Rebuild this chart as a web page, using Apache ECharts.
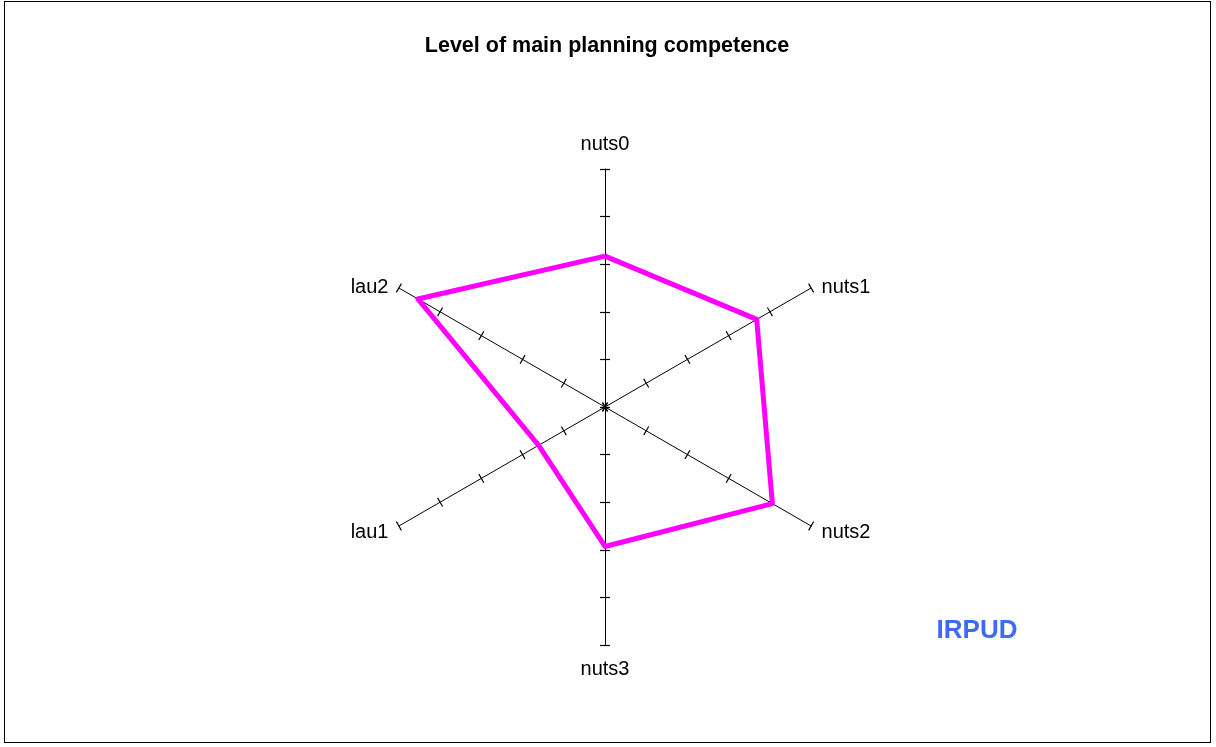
<!DOCTYPE html>
<html>
<head>
<meta charset="utf-8">
<script src="https://cdn.jsdelivr.net/npm/echarts@6/dist/echarts.min.js"></script>
<style>
html,body{margin:0;padding:0;background:#fff;}
#frame{position:absolute;left:4px;top:1px;width:1205px;height:740px;border:1px solid #000;}
#chart{position:absolute;left:0;top:0;width:1216px;height:747px;}
</style>
</head>
<body>
<div id="frame"></div>
<div id="chart"></div>
<script>
// Indicators in ECharts order (top, then counter-clockwise)
const categories = ['nuts0', 'lau2', 'lau1', 'nuts3', 'nuts2', 'nuts1'];
const values = [3.17, 4.54, 1.61, 2.93, 4.06, 3.68];
const axisMax = 5;
const splitCount = 5;
const titleText = 'Level of main planning competence';
const watermark = 'IRPUD';

const indicators = categories.map(n => ({ name: n, min: 0, max: axisMax }));
const baseRadar = {
  center: [605, 407],
  radius: 238,
  startAngle: 90,
  splitNumber: splitCount,
  shape: 'polygon',
  indicator: indicators,
  splitLine: { show: false },
  splitArea: { show: false },
  axisLabel: { show: false }
};
const nameStyleKey = { nuts0: 'top', nuts3: 'bot', nuts1: 'up', lau2: 'up', nuts2: 'low', lau1: 'low' };
const nameFont = { color: '#000', fontFamily: 'Liberation Sans, Arial', fontSize: 20 };

const chart = echarts.init(document.getElementById('chart'));
chart.setOption({
  animation: false,
  backgroundColor: 'transparent',
  title: [{
    text: titleText,
    left: 602, top: 30, textAlign: 'center',
    textStyle: { fontFamily: 'Liberation Sans, Arial', fontWeight: 'bold', fontSize: 21.5, color: '#000' }
  }, {
    text: watermark,
    left: 972, top: 613, textAlign: 'center',
    textStyle: { fontFamily: 'Liberation Sans, Arial', fontWeight: 'bold', fontSize: 26, color: '#3F6AF5' }
  }],
  radar: [
    Object.assign({}, baseRadar, {
      axisName: {
        color: '#000', fontFamily: 'Liberation Sans, Arial', fontSize: 20,
        formatter: (name) => '{' + nameStyleKey[name] + '|' + name + '}',
        rich: {
          top: Object.assign({ padding: [0, 0, 3, 0] }, nameFont),
          bot: Object.assign({ padding: [2, 0, 0, 0] }, nameFont),
          up: Object.assign({ padding: [10, 0, 0, 0] }, nameFont),
          low: Object.assign({ padding: [0, 0, 0, 0] }, nameFont)
        }
      },
      nameGap: 12,
      axisLine: { show: true, lineStyle: { color: '#000', width: 1 } },
      axisTick: { show: true, length: 5, lineStyle: { color: '#000', width: 1.2 } }
    }),
    Object.assign({}, baseRadar, {
      axisName: { show: false },
      axisLine: { show: false },
      axisTick: { show: true, length: -5, lineStyle: { color: '#000', width: 1.2 } }
    })
  ],
  series: [{
    type: 'radar',
    radarIndex: 0,
    symbol: 'none',
    lineStyle: { color: '#FF00FF', width: 5 },
    itemStyle: { color: '#FF00FF' },
    data: [{ value: values, name: 'competence' }]
  }]
});
</script>
</body>
</html>
